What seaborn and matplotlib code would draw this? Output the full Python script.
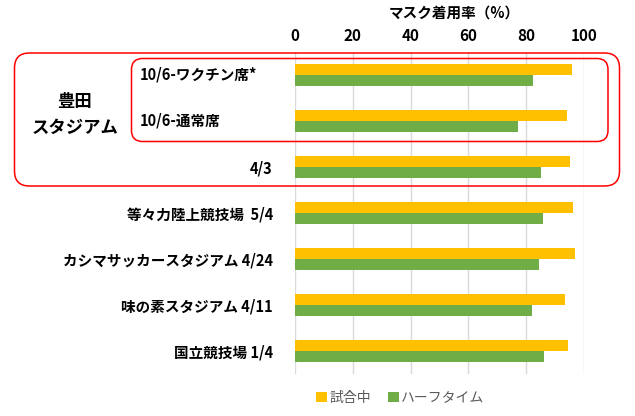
import matplotlib
matplotlib.use("Agg")
import matplotlib.pyplot as plt
import seaborn as sns
import pandas as pd
from matplotlib.patches import FancyBboxPatch
from matplotlib.transforms import blended_transform_factory

sns.set_theme(style="white")
plt.rcParams['font.family'] = ['Noto Sans CJK JP', 'DejaVu Sans']

# data
venues = ['10/6-ワクチン席*', '10/6-通常席', '4/3', '等々力陸上競技場  5/4',
          'カシマサッカースタジアム 4/24', '味の素スタジアム 4/11', '国立競技場 1/4']
during_match = [95.9, 94.1, 95.0, 96.2, 97.0, 93.4, 94.4]
half_time = [82.2, 77.0, 85.0, 85.9, 84.3, 82.1, 86.2]
series_names = ['試合中', 'ハーフタイム']
colors = ['#FFC000', '#70AD47']
x_ticks = [0, 20, 40, 60, 80, 100]

df = pd.DataFrame({
    'venue': venues * 2,
    'rate': during_match + half_time,
    'series': [series_names[0]] * len(venues) + [series_names[1]] * len(venues),
})

fig = plt.figure(figsize=(6.35, 4.16), dpi=100)
ax = fig.add_axes([295 / 635, 1 - 374 / 416, 289 / 635, 322 / 416])

sns.barplot(data=df, y='venue', x='rate', hue='series', orient='h',
            palette=colors, saturation=1, width=0.48, ax=ax, legend=True,
            linewidth=0)

ax.set_xlim(0, 100)
ax.set_xticks(x_ticks)
ax.xaxis.tick_top()
ax.set_xlabel('')
ax.set_ylabel('')
ax.grid(axis='x', color='#D9D9D9', linewidth=1)
ax.set_axisbelow(True)
for s in ax.spines.values():
    s.set_visible(False)
ax.tick_params(axis='x', length=0, pad=6, labelsize=11, labelcolor='black')
ax.tick_params(axis='y', length=0, pad=16, labelsize=10.5, labelcolor='black')
for lab in ax.get_xticklabels():
    lab.set_fontweight('bold')

# the first two rows sit inside the inner box, left aligned
ylabels = [v if i > 1 else '' for i, v in enumerate(venues)]
ax.set_yticks(range(len(venues)))
ax.set_yticklabels(ylabels, fontweight='bold')
tr = blended_transform_factory(fig.transFigure, ax.transData)
for i in range(2):
    ax.text(140 / 635, i, venues[i], transform=tr, ha='left', va='center',
            fontsize=10.5, fontweight='bold', color='black')

fig.text(454 / 635, 1 - 13 / 416, 'マスク着用率（%）', ha='center', va='center',
         fontsize=10.5, fontweight='bold', color='black')
fig.text(75 / 635, 1 - 115 / 416, '豊田\nスタジアム', ha='center', va='center',
         fontsize=12.5, fontweight='bold', color='black', linespacing=1.5)

# red rounded boxes (inches)
outer = FancyBboxPatch((0.145, 2.30), 6.05, 1.33, boxstyle='round,pad=0,rounding_size=0.15',
                       transform=fig.dpi_scale_trans, fill=False, edgecolor='#FF0000',
                       linewidth=1.1)
inner = FancyBboxPatch((1.315, 2.745), 4.765, 0.83, boxstyle='round,pad=0,rounding_size=0.11',
                       transform=fig.dpi_scale_trans, fill=False, edgecolor='#FF0000',
                       linewidth=1.1)
fig.add_artist(outer)
fig.add_artist(inner)

handles, labels = ax.get_legend_handles_labels()
ax.get_legend().remove()
leg = fig.legend(handles, labels, loc='center', bbox_to_anchor=(400 / 635, 1 - 398 / 416),
                 ncol=2, frameon=False, fontsize=10, handlelength=0.8, handleheight=0.8,
                 handletextpad=0.15, columnspacing=1.2)
for t in leg.get_texts():
    t.set_color('#595959')

fig.savefig('out.png', dpi=100)
